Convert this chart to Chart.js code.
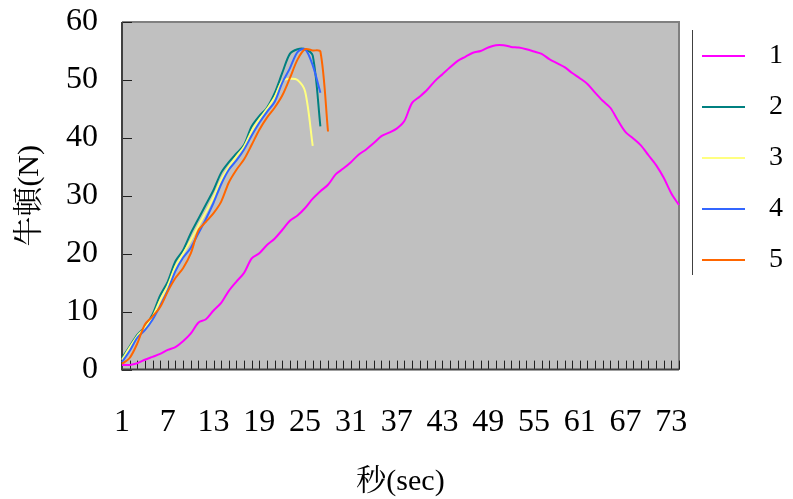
<!DOCTYPE html>
<html>
<head>
<meta charset="utf-8">
<script src="https://cdn.jsdelivr.net/npm/chart.js@4.4.1/dist/chart.umd.min.js"></script>
<style>
  html, body { margin: 0; padding: 0; background: #fff; }
  #wrap { width: 793px; height: 499px; }
</style>
</head>
<body>
<div id="wrap"><canvas id="chart"></canvas></div>
<script>
// seconds 1..74 along the category axis
const seconds = [
  1, 2, 3, 4, 5, 6, 7, 8, 9, 10, 11, 12, 13, 14, 15, 16, 17, 18, 19, 20,
  21, 22, 23, 24, 25, 26, 27, 28, 29, 30, 31, 32, 33, 34, 35, 36, 37, 38, 39, 40,
  41, 42, 43, 44, 45, 46, 47, 48, 49, 50, 51, 52, 53, 54, 55, 56, 57, 58, 59, 60,
  61, 62, 63, 64, 65, 66, 67, 68, 69, 70, 71, 72, 73, 74
];
const xTickLabels = ['1', '7', '13', '19', '25', '31', '37', '43', '49', '55', '61', '67', '73'];
const seriesNames = ['1', '2', '3', '4', '5'];

// force in newtons
const run1 = [
  0.8, 0.8, 1.1, 1.7, 2.2, 2.7, 3.4, 3.9, 4.9, 6.2,
  8.1, 8.7, 10.2, 11.5, 13.6, 15.2, 16.7, 19.2, 20.1, 21.5,
  22.6, 24.1, 25.7, 26.6, 27.9, 29.5, 30.8, 31.9, 33.7, 34.7,
  35.8, 37.1, 38.0, 39.1, 40.3, 40.9, 41.6, 42.9, 46.0, 47.1,
  48.3, 49.8, 51.0, 52.2, 53.3, 54.0, 54.7, 55.0, 55.6, 56.0,
  56.0, 55.7, 55.6, 55.3, 54.9, 54.5, 53.6, 52.9, 52.2, 51.2,
  50.3, 49.3, 47.8, 46.4, 45.2, 43.0, 41.0, 39.9, 38.7, 37.0,
  35.3, 33.1, 30.4, 28.4
];
const run2 = [
  2.0, 4.0, 6.0, 7.4, 9.5, 12.8, 15.2, 18.7, 20.6, 23.5,
  26.0, 28.5, 31.0, 34.0, 35.8, 37.3, 38.8, 42.0, 43.8, 45.2,
  47.7, 51.2, 54.5, 55.3, 55.3, 54.2, 42.0
];
const run3 = [
  1.7, 3.8, 5.8, 7.2, 9.1, 12.0, 14.5, 17.8, 20.0, 22.3,
  24.8, 27.2, 29.8, 32.8, 35.0, 36.8, 38.5, 41.2, 43.2, 45.0,
  47.0, 49.8, 50.2, 50.0, 48.0, 38.6
];
const run4 = [
  1.3, 3.2, 5.5, 6.8, 8.6, 11.0, 13.7, 17.0, 19.3, 21.0,
  23.5, 26.0, 28.8, 32.0, 34.5, 36.1, 38.0, 40.4, 42.6, 44.5,
  46.2, 49.5, 52.0, 54.8, 55.3, 52.5, 47.8
];
const run5 = [
  1.0, 2.0, 4.5, 7.8, 9.2, 10.8, 13.5, 15.8, 17.5, 20.0,
  24.0, 25.5, 27.0, 29.0, 32.3, 34.5, 36.3, 38.8, 41.4, 43.5,
  45.2, 47.3, 50.3, 53.5, 55.3, 55.1, 54.9, 41.1
];

const runs = [run1, run2, run3, run4, run5];
const colors = ['#ff00ff', '#008080', '#ffff80', '#3366ff', '#ff6600'];

const FONT = "'Liberation Serif', 'Noto Serif CJK TC', 'Noto Sans CJK TC', serif";

// grey plot area, frame and the little inward tick marks
const plotFrame = {
  id: 'plotFrame',
  beforeDatasetsDraw(chart) {
    const { ctx, chartArea: a, scales: { x, y } } = chart;
    ctx.save();
    ctx.fillStyle = '#c0c0c0';
    ctx.fillRect(a.left, a.top, a.right - a.left, a.bottom - a.top);

    ctx.strokeStyle = '#808080';
    ctx.lineWidth = 2;
    ctx.beginPath();
    ctx.moveTo(a.left, a.top);
    ctx.lineTo(a.right, a.top);
    ctx.lineTo(a.right, a.bottom);
    ctx.stroke();

    ctx.strokeStyle = '#202020';
    ctx.lineWidth = 1;
    ctx.beginPath();
    x.ticks.forEach((t, i) => {
      const px = Math.round(x.getPixelForTick(i)) + 0.5;
      ctx.moveTo(px, a.bottom);
      ctx.lineTo(px, a.bottom - 9);
    });
    y.ticks.forEach((t, i) => {
      const py = Math.round(y.getPixelForTick(i)) + 0.5;
      ctx.moveTo(a.left, py);
      ctx.lineTo(a.left + 10, py);
    });
    ctx.stroke();

    ctx.strokeStyle = '#404040';
    ctx.lineWidth = 2;
    ctx.beginPath();
    ctx.moveTo(a.left, a.top);
    ctx.lineTo(a.left, a.bottom);
    ctx.lineTo(a.right, a.bottom);
    ctx.stroke();
    ctx.restore();
  },
  afterDraw(chart) {
    // thin rule at the left of the legend
    const lg = chart.legend;
    if (!lg || !lg.legendHitBoxes.length) return;
    const boxes = lg.legendHitBoxes;
    const first = boxes[0];
    const last = boxes[boxes.length - 1];
    const { ctx } = chart;
    ctx.save();
    ctx.strokeStyle = '#404040';
    ctx.lineWidth = 1;
    ctx.beginPath();
    const lx = Math.round(first.left - 10) + 0.5;
    ctx.moveTo(lx, first.top - 12);
    ctx.lineTo(lx, last.top + last.height + 1);
    ctx.stroke();
    ctx.restore();
  }
};

new Chart(document.getElementById('chart'), {
  type: 'line',
  data: {
    labels: seconds,
    datasets: runs.map((run, i) => ({
      label: seriesNames[i],
      data: run,
      borderColor: colors[i],
      backgroundColor: colors[i],
      borderWidth: 2,
      pointRadius: 0,
      tension: 0.3,
      fill: false,
      order: runs.length - i,
    })),
  },
  options: {
    responsive: true,
    maintainAspectRatio: false,
    animation: false,
    layout: { padding: { top: 19, right: 10, left: 0, bottom: 0 } },
    plugins: {
      legend: {
        position: 'right',
        align: 'start',
        labels: {
          usePointStyle: true,
          pointStyle: 'line',
          pointStyleWidth: 43,
          padding: 23,
          textAlign: 'right',
          color: '#000',
          font: { family: FONT, size: 28 },
          sort: (a, b) => a.datasetIndex - b.datasetIndex,
        },
      },
      tooltip: { enabled: false },
    },
    scales: {
      x: {
        offset: false,
        grid: { display: false, drawTicks: false },
        border: { display: false },
        ticks: {
          autoSkip: false,
          maxRotation: 0,
          minRotation: 0,
          padding: 34,
          color: '#000',
          font: { family: FONT, size: 32, lineHeight: 1.2 },
          callback: function (value) {
            const lab = String(this.getLabelForValue(value));
            return xTickLabels.includes(lab) ? lab : '';
          },
        },
        title: {
          display: true,
          text: '秒(sec)',
          color: '#000',
          font: { family: FONT, size: 30, lineHeight: 0.4 },
          padding: { top: 0, bottom: 11 },
        },
      },
      y: {
        min: 0,
        max: 60,
        grid: { display: false, drawTicks: false },
        border: { display: false },
        afterFit(scale) {
          scale.paddingTop = 22;
        },
        ticks: {
          stepSize: 10,
          padding: 24,
          color: '#000',
          font: { family: FONT, size: 32 },
        },
        title: {
          display: true,
          text: '牛頓(N)',
          color: '#000',
          font: { family: FONT, size: 30, lineHeight: 0.8 },
          padding: { top: 18, bottom: 0 },
        },
      },
    },
  },
  plugins: [plotFrame],
});
</script>
</body>
</html>
